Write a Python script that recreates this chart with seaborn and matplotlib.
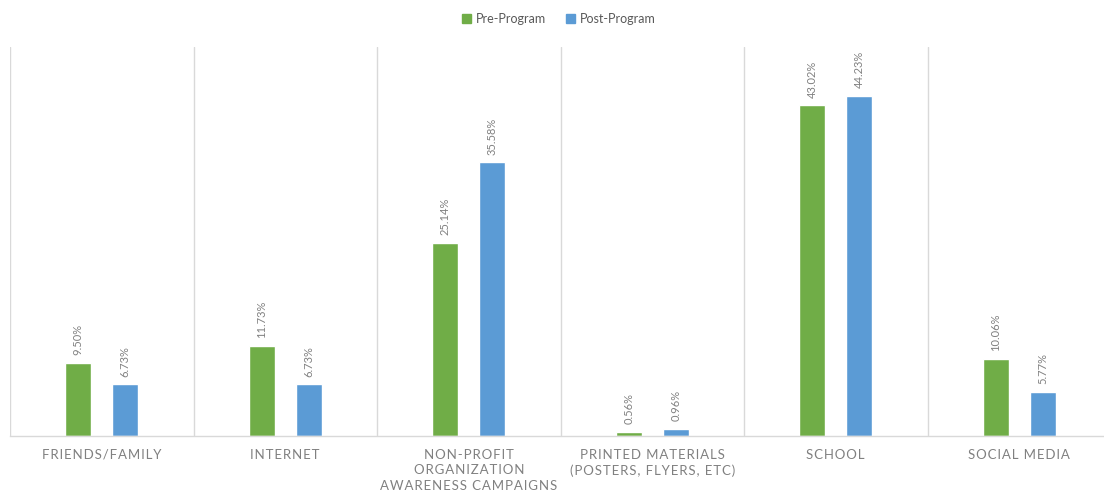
import matplotlib
matplotlib.use("Agg")
import matplotlib.pyplot as plt
import seaborn as sns
import pandas as pd

categories = [
    "FRIENDS/FAMILY",
    "INTERNET",
    "NON-PROFIT\nORGANIZATION\nAWARENESS CAMPAIGNS",
    "PRINTED MATERIALS\n(POSTERS, FLYERS, ETC)",
    "SCHOOL",
    "SOCIAL MEDIA",
]
series_names = ["Pre-Program", "Post-Program"]
pre_program = [9.50, 11.73, 25.14, 0.56, 43.02, 10.06]
post_program = [6.73, 6.73, 35.58, 0.96, 44.23, 5.77]

colors = {"Pre-Program": "#70ad47", "Post-Program": "#5b9bd5"}
text_gray = "#808080"
line_gray = "#d9d9d9"

df = pd.DataFrame({
    "category": categories * 2,
    "series": [series_names[0]] * len(categories) + [series_names[1]] * len(categories),
    "value": pre_program + post_program,
})

sns.set_theme(style="white")
plt.rcParams["font.family"] = ["Lato", "DejaVu Sans"]


def tracked(label, sep="\u200a"):
    """Widen the letter spacing of an axis label, line by line."""
    return "\n".join(sep.join(line) for line in label.split("\n"))


fig = plt.figure(figsize=(11.04, 4.90), dpi=100)
ax = fig.add_axes([10 / 1104, 1 - 436 / 490, 1101 / 1104, 389 / 490])

sns.barplot(
    data=df, x="category", y="value", hue="series",
    palette=colors, width=0.51, gap=0.45, ax=ax, legend=False,
    saturation=1, order=categories, hue_order=series_names,
)

ax.set_ylim(0, 50.6)
ax.set_xlim(-0.5, len(categories) - 0.5)
ax.set_yticks([])
ax.set_xlabel("")
ax.set_ylabel("")
for side in ["top", "right", "left"]:
    ax.spines[side].set_visible(False)
ax.spines["bottom"].set_color(line_gray)
ax.spines["bottom"].set_linewidth(1.0)

# category separators
for i in range(len(categories) + 1):
    ax.axvline(i - 0.5, color=line_gray, lw=1.0, zorder=0)

ax.tick_params(axis="x", length=0, pad=9)
ax.set_xticks(range(len(categories)))
ax.set_xticklabels([tracked(c) for c in categories], fontsize=9.5,
                   color=text_gray, linespacing=1.38)

# rotated value labels
for container in ax.containers:
    for bar in container:
        h = bar.get_height()
        ax.annotate(
            f"{h:.2f}%",
            xy=(bar.get_x() + bar.get_width() / 2, h),
            xytext=(0, 5.5), textcoords="offset points",
            rotation=90, ha="center", va="bottom",
            fontsize=8, color=text_gray,
        )

handles = [plt.Rectangle((0, 0), 1, 1, color=colors[s]) for s in series_names]
fig.legend(
    handles, series_names, loc="center", bbox_to_anchor=(0.506, 0.962),
    ncol=2, frameon=False, fontsize=9, handlelength=0.7, handleheight=0.7,
    handletextpad=0.4, columnspacing=1.6, labelcolor="#595959",
)

fig.savefig("out.png", dpi=100)
